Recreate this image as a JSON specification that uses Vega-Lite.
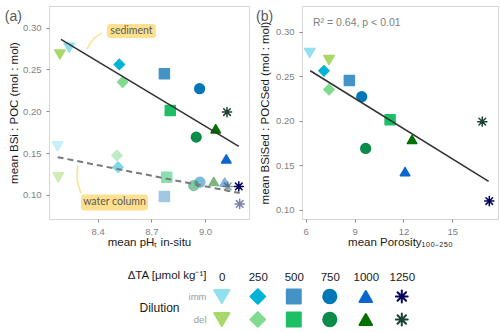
{
  "$schema": "https://vega.github.io/schema/vega-lite/v6.json",
  "background": "white",
  "padding": {"left": 4, "top": 5, "right": 0, "bottom": 0},
  "config": {
    "font": "Liberation Sans",
    "view": {"stroke": "#d6d6d6", "strokeWidth": 1},
    "axis": {
      "grid": false,
      "domain": false,
      "tickColor": "#8a8a8a",
      "tickSize": 3,
      "labelColor": "#7f7f7f",
      "labelFontSize": 9.5,
      "titleColor": "#1a1a1a",
      "titleFontSize": 11.5,
      "titleFontWeight": "normal"
    }
  },
  "datasets": {
    "treatments": [
      {"dilution": "imm", "dTA": 0, "treatment": "imm 0", "pH_sed": 8.241, "ratio_sed": 0.276, "pH_wc": 8.176, "ratio_wc": 0.158, "porosity": 6.245},
      {"dilution": "imm", "dTA": 250, "treatment": "imm 250", "pH_sed": 8.521, "ratio_sed": 0.256, "pH_wc": 8.514, "ratio_wc": 0.133, "porosity": 7.12},
      {"dilution": "imm", "dTA": 500, "treatment": "imm 500", "pH_sed": 8.773, "ratio_sed": 0.245, "pH_wc": 8.773, "ratio_wc": 0.098, "porosity": 8.68},
      {"dilution": "imm", "dTA": 750, "treatment": "imm 750", "pH_sed": 8.970, "ratio_sed": 0.227, "pH_wc": 8.972, "ratio_wc": 0.115, "porosity": 9.44},
      {"dilution": "imm", "dTA": 1000, "treatment": "imm 1000", "pH_sed": 9.119, "ratio_sed": 0.143, "pH_wc": 9.110, "ratio_wc": 0.115, "porosity": 12.10},
      {"dilution": "imm", "dTA": 1250, "treatment": "imm 1250", "pH_sed": 9.189, "ratio_sed": 0.110, "pH_wc": 9.194, "ratio_wc": 0.089, "porosity": 17.27},
      {"dilution": "del", "dTA": 0, "treatment": "del 0", "pH_sed": 8.189, "ratio_sed": 0.268, "pH_wc": 8.180, "ratio_wc": 0.121, "porosity": 7.43},
      {"dilution": "del", "dTA": 250, "treatment": "del 250", "pH_sed": 8.540, "ratio_sed": 0.235, "pH_wc": 8.508, "ratio_wc": 0.147, "porosity": 7.43},
      {"dilution": "del", "dTA": 500, "treatment": "del 500", "pH_sed": 8.806, "ratio_sed": 0.201, "pH_wc": 8.786, "ratio_wc": 0.121, "porosity": 11.18},
      {"dilution": "del", "dTA": 750, "treatment": "del 750", "pH_sed": 8.951, "ratio_sed": 0.169, "pH_wc": 8.937, "ratio_wc": 0.111, "porosity": 9.68},
      {"dilution": "del", "dTA": 1000, "treatment": "del 1000", "pH_sed": 9.060, "ratio_sed": 0.179, "pH_wc": 9.049, "ratio_wc": 0.116, "porosity": 12.53},
      {"dilution": "del", "dTA": 1250, "treatment": "del 1250", "pH_sed": 9.123, "ratio_sed": 0.199, "pH_wc": 9.127, "ratio_wc": 0.110, "porosity": 16.84}
    ],
    "fits": [
      {"panel": "a", "series": "sediment", "x": 8.195, "y": 0.286},
      {"panel": "a", "series": "sediment", "x": 9.189, "y": 0.158},
      {"panel": "a", "series": "water column", "x": 8.176, "y": 0.145},
      {"panel": "a", "series": "water column", "x": 9.194, "y": 0.102},
      {"panel": "b", "series": "sediment", "x": 6.28, "y": 0.256},
      {"panel": "b", "series": "sediment", "x": 17.23, "y": 0.132}
    ],
    "labels": [
      {"label": "sediment", "tx": 8.589, "ty": 0.296, "x1": 8.452, "x2": 8.726, "y1": 0.3044, "y2": 0.2876},
      {"label": "water column", "tx": 8.494, "ty": 0.0908, "x1": 8.307, "x2": 8.681, "y1": 0.1004, "y2": 0.0812}
    ],
    "leaders": [
      {"label": "sediment", "step": 1, "x": 8.424, "y": 0.2936},
      {"label": "sediment", "step": 2, "x": 8.374, "y": 0.2876},
      {"label": "sediment", "step": 3, "x": 8.340, "y": 0.2744},
      {"label": "water column", "step": 1, "x": 8.290, "y": 0.1352},
      {"label": "water column", "step": 2, "x": 8.279, "y": 0.1184},
      {"label": "water column", "step": 3, "x": 8.307, "y": 0.1016}
    ],
    "panelA": [
      {"label": "(a)", "x": 7.881, "y": 0.3134}
    ],
    "panelB": [
      {"label": "(b)", "x": 2.95, "y": 0.3168},
      {"label": "R² = 0.64, p < 0.01", "x": 6.45, "y": 0.3098}
    ]
  },
  "resolve": {"scale": {"size": "independent"}},
  "spacing": 20,
  "vconcat": [
    {
      "spacing": 5,
      "hconcat": [
        {
          "width": 200,
          "height": 213,
          "layer": [
            {
              "data": {"name": "labels"},
              "mark": {"type": "rect", "color": "#FFE08F", "cornerRadius": 3},
              "encoding": {
                "x": {"field": "x1", "type": "quantitative", "scale": {"domain": [8.128, 9.246], "nice": false, "zero": false},
                  "axis": {"values": [8.4, 8.7, 9.0], "format": ".1f", "title": "mean pHₜ in-situ", "labelPadding": 4, "titlePadding": 1}},
                "x2": {"field": "x2"},
                "y": {"field": "y1", "type": "quantitative", "scale": {"domain": [0.071, 0.326], "nice": false, "zero": false},
                  "axis": {"values": [0.1, 0.15, 0.2, 0.25, 0.3], "format": ".2f", "title": "mean BSi : POC (mol : mol)", "labelPadding": 5, "titlePadding": 3}},
                "y2": {"field": "y2"}
              }
            },
            {
              "data": {"name": "leaders"},
              "mark": {"type": "line", "color": "#FFE08F", "strokeWidth": 1.5, "interpolate": "basis"},
              "encoding": {
                "x": {"field": "x", "type": "quantitative", "scale": {"domain": [8.128, 9.246], "nice": false, "zero": false}},
                "y": {"field": "y", "type": "quantitative", "scale": {"domain": [0.071, 0.326], "nice": false, "zero": false}},
                "detail": {"field": "label"},
                "order": {"field": "step"}
              }
            },
            {
              "data": {"name": "treatments"},
              "mark": {"type": "point", "filled": true, "opacity": 0.5, "strokeWidth": 1.5, "strokeJoin": "round", "strokeCap": "round"},
              "encoding": {
                "x": {"field": "pH_wc", "type": "quantitative", "scale": {"domain": [8.128, 9.246], "nice": false, "zero": false}},
                "y": {"field": "ratio_wc", "type": "quantitative", "scale": {"domain": [0.071, 0.326], "nice": false, "zero": false}},
                "color": {"field": "treatment", "type": "nominal", "legend": null, "scale": {"domain": ["imm 0", "imm 250", "imm 500", "imm 750", "imm 1000", "imm 1250", "del 0", "del 250", "del 500", "del 750", "del 1000", "del 1250"], "range": ["#90E0EF", "#00B4D8", "#4393C6", "#0077B6", "#0B66CF", "#03045E", "#A6D96A", "#80DB8F", "#1DBF65", "#0B8C4A", "#007000", "#1B4332"]}},
                "stroke": {"field": "treatment", "type": "nominal", "legend": null, "scale": {"domain": ["imm 0", "imm 250", "imm 500", "imm 750", "imm 1000", "imm 1250", "del 0", "del 250", "del 500", "del 750", "del 1000", "del 1250"], "range": ["#90E0EF", "#00B4D8", "#4393C6", "#0077B6", "#0B66CF", "#03045E", "#A6D96A", "#80DB8F", "#1DBF65", "#0B8C4A", "#007000", "#1B4332"]}},
                "shape": {"field": "dTA", "type": "ordinal", "legend": null, "scale": {"domain": [0, 250, 500, 750, 1000, 1250], "range": ["triangle-down", "diamond", "square", "circle", "triangle-up", "M0,-1L0,1M-1,0L1,0M-0.72,-0.72L0.72,0.72M-0.72,0.72L0.72,-0.72"]}},
                "size": {"field": "dTA", "type": "ordinal", "legend": null, "scale": {"domain": [0, 250, 500, 750, 1000, 1250], "range": [110, 85, 50, 72, 95, 90]}}
              }
            },
            {
              "data": {"name": "treatments"},
              "mark": {"type": "point", "filled": true, "opacity": 1, "strokeWidth": 1.5, "strokeJoin": "round", "strokeCap": "round"},
              "encoding": {
                "x": {"field": "pH_sed", "type": "quantitative", "scale": {"domain": [8.128, 9.246], "nice": false, "zero": false}},
                "y": {"field": "ratio_sed", "type": "quantitative", "scale": {"domain": [0.071, 0.326], "nice": false, "zero": false}},
                "color": {"field": "treatment", "type": "nominal", "legend": null, "scale": {"domain": ["imm 0", "imm 250", "imm 500", "imm 750", "imm 1000", "imm 1250", "del 0", "del 250", "del 500", "del 750", "del 1000", "del 1250"], "range": ["#90E0EF", "#00B4D8", "#4393C6", "#0077B6", "#0B66CF", "#03045E", "#A6D96A", "#80DB8F", "#1DBF65", "#0B8C4A", "#007000", "#1B4332"]}},
                "stroke": {"field": "treatment", "type": "nominal", "legend": null, "scale": {"domain": ["imm 0", "imm 250", "imm 500", "imm 750", "imm 1000", "imm 1250", "del 0", "del 250", "del 500", "del 750", "del 1000", "del 1250"], "range": ["#90E0EF", "#00B4D8", "#4393C6", "#0077B6", "#0B66CF", "#03045E", "#A6D96A", "#80DB8F", "#1DBF65", "#0B8C4A", "#007000", "#1B4332"]}},
                "shape": {"field": "dTA", "type": "ordinal", "legend": null, "scale": {"domain": [0, 250, 500, 750, 1000, 1250], "range": ["triangle-down", "diamond", "square", "circle", "triangle-up", "M0,-1L0,1M-1,0L1,0M-0.72,-0.72L0.72,0.72M-0.72,0.72L0.72,-0.72"]}},
                "size": {"field": "dTA", "type": "ordinal", "legend": null, "scale": {"domain": [0, 250, 500, 750, 1000, 1250], "range": [110, 85, 50, 72, 95, 90]}}
              }
            },
            {
              "data": {"name": "fits"},
              "transform": [{"filter": "datum.panel === 'a' && datum.series === 'water column'"}],
              "mark": {"type": "line", "color": "#7a7a7a", "strokeWidth": 2, "strokeDash": [6, 4]},
              "encoding": {
                "x": {"field": "x", "type": "quantitative", "scale": {"domain": [8.128, 9.246], "nice": false, "zero": false}},
                "y": {"field": "y", "type": "quantitative", "scale": {"domain": [0.071, 0.326], "nice": false, "zero": false}}
              }
            },
            {
              "data": {"name": "fits"},
              "transform": [{"filter": "datum.panel === 'a' && datum.series === 'sediment'"}],
              "mark": {"type": "line", "color": "#333333", "strokeWidth": 1.6},
              "encoding": {
                "x": {"field": "x", "type": "quantitative", "scale": {"domain": [8.128, 9.246], "nice": false, "zero": false}},
                "y": {"field": "y", "type": "quantitative", "scale": {"domain": [0.071, 0.326], "nice": false, "zero": false}}
              }
            },
            {
              "data": {"name": "labels"},
              "mark": {"type": "text", "font": "Lato", "fontSize": 10.5, "color": "#595959", "baseline": "middle", "align": "center"},
              "encoding": {
                "x": {"field": "tx", "type": "quantitative", "scale": {"domain": [8.128, 9.246], "nice": false, "zero": false}},
                "y": {"field": "ty", "type": "quantitative", "scale": {"domain": [0.071, 0.326], "nice": false, "zero": false}},
                "text": {"field": "label"}
              }
            },
            {
              "data": {"name": "panelA"},
              "mark": {"type": "text", "fontSize": 14, "color": "#595959", "baseline": "middle", "align": "left"},
              "encoding": {
                "x": {"field": "x", "type": "quantitative", "scale": {"domain": [8.128, 9.246], "nice": false, "zero": false}},
                "y": {"field": "y", "type": "quantitative", "scale": {"domain": [0.071, 0.326], "nice": false, "zero": false}},
                "text": {"field": "label"}
              }
            }
          ]
        },
        {
          "width": 196,
          "height": 213,
          "layer": [
            {
              "data": {"name": "treatments"},
              "mark": {"type": "point", "filled": true, "opacity": 1, "strokeWidth": 1.5, "strokeJoin": "round", "strokeCap": "round"},
              "encoding": {
                "x": {"field": "porosity", "type": "quantitative", "scale": {"domain": [5.773, 17.805], "nice": false, "zero": false},
                  "axis": {"values": [6, 9, 12, 15], "title": "mean Porosity₁₀₀₋₂₅₀", "labelPadding": 4, "titlePadding": 1}},
                "y": {"field": "ratio_sed", "type": "quantitative", "scale": {"domain": [0.0899, 0.3286], "nice": false, "zero": false},
                  "axis": {"values": [0.1, 0.15, 0.2, 0.25, 0.3], "format": ".2f", "title": "mean BSiSed : POCSed (mol : mol)", "labelPadding": 5, "titlePadding": 5}},
                "color": {"field": "treatment", "type": "nominal", "legend": null, "scale": {"domain": ["imm 0", "imm 250", "imm 500", "imm 750", "imm 1000", "imm 1250", "del 0", "del 250", "del 500", "del 750", "del 1000", "del 1250"], "range": ["#90E0EF", "#00B4D8", "#4393C6", "#0077B6", "#0B66CF", "#03045E", "#A6D96A", "#80DB8F", "#1DBF65", "#0B8C4A", "#007000", "#1B4332"]}},
                "stroke": {"field": "treatment", "type": "nominal", "legend": null, "scale": {"domain": ["imm 0", "imm 250", "imm 500", "imm 750", "imm 1000", "imm 1250", "del 0", "del 250", "del 500", "del 750", "del 1000", "del 1250"], "range": ["#90E0EF", "#00B4D8", "#4393C6", "#0077B6", "#0B66CF", "#03045E", "#A6D96A", "#80DB8F", "#1DBF65", "#0B8C4A", "#007000", "#1B4332"]}},
                "shape": {"field": "dTA", "type": "ordinal", "legend": null, "scale": {"domain": [0, 250, 500, 750, 1000, 1250], "range": ["triangle-down", "diamond", "square", "circle", "triangle-up", "M0,-1L0,1M-1,0L1,0M-0.72,-0.72L0.72,0.72M-0.72,0.72L0.72,-0.72"]}},
                "size": {"field": "dTA", "type": "ordinal", "legend": null, "scale": {"domain": [0, 250, 500, 750, 1000, 1250], "range": [110, 85, 50, 72, 95, 90]}}
              }
            },
            {
              "data": {"name": "fits"},
              "transform": [{"filter": "datum.panel === 'b'"}],
              "mark": {"type": "line", "color": "#333333", "strokeWidth": 1.6},
              "encoding": {
                "x": {"field": "x", "type": "quantitative", "scale": {"domain": [5.773, 17.805], "nice": false, "zero": false}},
                "y": {"field": "y", "type": "quantitative", "scale": {"domain": [0.0899, 0.3286], "nice": false, "zero": false}}
              }
            },
            {
              "data": {"name": "panelB"},
              "transform": [{"filter": "datum.label === '(b)'"}],
              "mark": {"type": "text", "fontSize": 14, "color": "#595959", "align": "left", "baseline": "middle"},
              "encoding": {
                "x": {"field": "x", "type": "quantitative", "scale": {"domain": [5.773, 17.805], "nice": false, "zero": false}},
                "y": {"field": "y", "type": "quantitative", "scale": {"domain": [0.0899, 0.3286], "nice": false, "zero": false}},
                "text": {"field": "label"}
              }
            },
            {
              "data": {"name": "panelB"},
              "transform": [{"filter": "datum.label !== '(b)'"}],
              "mark": {"type": "text", "fontSize": 10.5, "color": "#7f7f7f", "align": "left", "baseline": "middle"},
              "encoding": {
                "x": {"field": "x", "type": "quantitative", "scale": {"domain": [5.773, 17.805], "nice": false, "zero": false}},
                "y": {"field": "y", "type": "quantitative", "scale": {"domain": [0.0899, 0.3286], "nice": false, "zero": false}},
                "text": {"field": "label"}
              }
            }
          ]
        }
      ]
    },
    {
      "width": 382,
      "height": 46,
      "view": {"stroke": null},
      "data": {"name": "treatments"},
      "mark": {"type": "point", "filled": true, "opacity": 1, "strokeWidth": 2, "strokeJoin": "round", "strokeCap": "round"},
      "encoding": {
        "x": {"field": "dTA", "type": "quantitative", "scale": {"domain": [-1200, 1452.8], "nice": false, "zero": false},
          "axis": {"orient": "top", "values": [0, 250, 500, 750, 1000, 1250], "format": "d", "tickSize": 0, "labelColor": "#1a1a1a", "labelFontSize": 11.5, "labelPadding": 3,
            "title": "ΔTA [μmol kg⁻¹]", "titleX": 157, "titleY": -9.5, "titleAlign": "right", "titleBaseline": "middle", "titleFontSize": 11.5}},
        "y": {"field": "dilution", "type": "nominal", "scale": {"type": "point", "domain": ["imm", "del"], "padding": 0.5},
          "axis": {"offset": -160, "tickSize": 0, "labelColor": "#9a9a9a", "labelFontSize": 9.5, "labelPadding": 3,
            "title": "Dilution", "titleAngle": 0, "titleX": -30, "titleY": 22.5, "titleAlign": "right", "titleBaseline": "middle", "titleFontSize": 12}},
        "color": {"field": "treatment", "type": "nominal", "legend": null, "scale": {"domain": ["imm 0", "imm 250", "imm 500", "imm 750", "imm 1000", "imm 1250", "del 0", "del 250", "del 500", "del 750", "del 1000", "del 1250"], "range": ["#90E0EF", "#00B4D8", "#4393C6", "#0077B6", "#0B66CF", "#03045E", "#A6D96A", "#80DB8F", "#1DBF65", "#0B8C4A", "#007000", "#1B4332"]}},
        "stroke": {"field": "treatment", "type": "nominal", "legend": null, "scale": {"domain": ["imm 0", "imm 250", "imm 500", "imm 750", "imm 1000", "imm 1250", "del 0", "del 250", "del 500", "del 750", "del 1000", "del 1250"], "range": ["#90E0EF", "#00B4D8", "#4393C6", "#0077B6", "#0B66CF", "#03045E", "#A6D96A", "#80DB8F", "#1DBF65", "#0B8C4A", "#007000", "#1B4332"]}},
        "shape": {"field": "dTA", "type": "ordinal", "legend": null, "scale": {"domain": [0, 250, 500, 750, 1000, 1250], "range": ["triangle-down", "diamond", "square", "circle", "triangle-up", "M0,-1L0,1M-1,0L1,0M-0.72,-0.72L0.72,0.72M-0.72,0.72L0.72,-0.72"]}},
        "size": {"field": "dTA", "type": "ordinal", "legend": null, "scale": {"domain": [0, 250, 500, 750, 1000, 1250], "range": [230, 140, 140, 170, 220, 150]}}
      }
    }
  ]
}
